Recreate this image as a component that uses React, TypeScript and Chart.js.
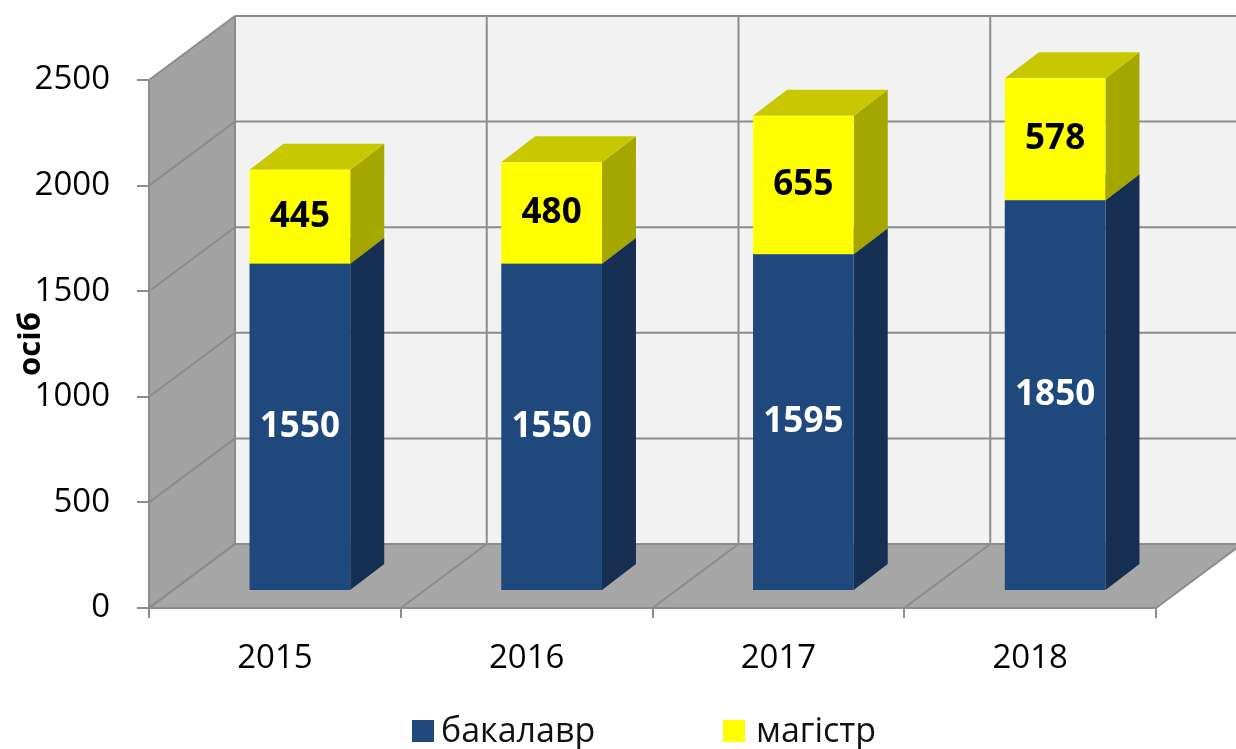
import React, { useEffect, useRef } from 'react';
import { Chart, registerables } from 'chart.js';

Chart.register(...registerables);

// ---- data ----
const categories = ['2015', '2016', '2017', '2018'];
const bachelorValues = [1550, 1550, 1595, 1850];
const masterValues = [445, 480, 655, 578];
const seriesNames = ['бакалавр', 'магістр'];
const yMin = 0;
const yMax = 2500;
const yStep = 500;
const axisTitle = 'осіб';

// ---- styling ----
const FONT = "'Open Sans', 'DejaVu Sans', sans-serif";
const SERIES_STYLE = [
  { front: '#1f497d', side: '#162f52', top: '#2b5a92', label: '#ffffff' },
  { front: '#ffff00', side: '#a6a600', top: '#c8c800', label: '#000000' },
];
const WALL = { back: '#f2f2f2', side: '#a2a2a2', floor: '#a6a6a6', line: '#8c8c8c' };
const DEPTH = { x: 86, y: -64 };
const BAR_SHIFT = { x: 25, y: -17 };
const BAR_DEPTH = { x: 34, y: -26 };

function fillPoly(ctx: CanvasRenderingContext2D, pts: number[][], color: string) {
  ctx.beginPath();
  ctx.moveTo(pts[0][0], pts[0][1]);
  for (let i = 1; i < pts.length; i++) ctx.lineTo(pts[i][0], pts[i][1]);
  ctx.closePath();
  ctx.fillStyle = color;
  ctx.fill();
}

function seg(ctx: CanvasRenderingContext2D, x1: number, y1: number, x2: number, y2: number) {
  ctx.beginPath();
  ctx.moveTo(x1, y1);
  ctx.lineTo(x2, y2);
  ctx.stroke();
}

const threeDPlugin = {
  id: 'threeD',
  beforeDraw(chart: any) {
    const ctx: CanvasRenderingContext2D = chart.ctx;
    const xs = chart.scales.x;
    const ys = chart.scales.y;
    const L = xs.left, R = xs.right, T = ys.top, B = ys.bottom;
    const DX = DEPTH.x, DY = DEPTH.y;
    ctx.save();
    fillPoly(ctx, [[L + DX, T + DY], [R + DX, T + DY], [R + DX, B + DY], [L + DX, B + DY]], WALL.back);
    fillPoly(ctx, [[L, T], [L + DX, T + DY], [L + DX, B + DY], [L, B]], WALL.side);
    fillPoly(ctx, [[L, B], [R, B], [R + DX, B + DY], [L + DX, B + DY]], WALL.floor);
    ctx.strokeStyle = WALL.line;
    ctx.lineWidth = 2;
    ys.ticks.forEach((t: any) => {
      const y = ys.getPixelForValue(t.value);
      seg(ctx, L, y, L + DX, y + DY);
      seg(ctx, L + DX, y + DY, R + DX, y + DY);
    });
    const n = chart.data.labels.length;
    const w = (R - L) / n;
    for (let i = 0; i <= n; i++) {
      const x = L + i * w;
      seg(ctx, x + DX, T + DY, x + DX, B + DY);
      seg(ctx, x, B, x + DX, B + DY);
    }
    ctx.restore();
  },
  beforeDatasetsDraw(chart: any) {
    const ctx: CanvasRenderingContext2D = chart.ctx;
    ctx.save();
    ctx.translate(BAR_SHIFT.x, BAR_SHIFT.y);
    chart.data.datasets.forEach((ds: any, di: number) => {
      const meta = chart.getDatasetMeta(di);
      const st = SERIES_STYLE[di];
      meta.data.forEach((bar: any) => {
        const { x, y, base, width } = bar.getProps(['x', 'y', 'base', 'width'], true);
        const l = x - width / 2;
        const r = x + width / 2;
        const top = Math.min(y, base);
        const bot = Math.max(y, base);
        fillPoly(ctx, [[r, top], [r + BAR_DEPTH.x, top + BAR_DEPTH.y], [r + BAR_DEPTH.x, bot + BAR_DEPTH.y], [r, bot]], st.side);
        fillPoly(ctx, [[l, top], [l + BAR_DEPTH.x, top + BAR_DEPTH.y], [r + BAR_DEPTH.x, top + BAR_DEPTH.y], [r, top]], st.top);
      });
    });
  },
  afterDatasetsDraw(chart: any) {
    const ctx: CanvasRenderingContext2D = chart.ctx;
    ctx.font = `bold 35px ${FONT}`;
    ctx.textAlign = 'center';
    ctx.textBaseline = 'middle';
    chart.data.datasets.forEach((ds: any, di: number) => {
      const meta = chart.getDatasetMeta(di);
      ctx.fillStyle = SERIES_STYLE[di].label;
      meta.data.forEach((bar: any, i: number) => {
        const { x, y, base } = bar.getProps(['x', 'y', 'base'], true);
        ctx.fillText(String(ds.data[i]), x, (y + base) / 2);
      });
    });
    ctx.restore();
  },
};

export default function App() {
  const ref = useRef<HTMLCanvasElement>(null);

  useEffect(() => {
    const chart = new Chart(ref.current as HTMLCanvasElement, {
      type: 'bar',
      data: {
        labels: categories,
        datasets: [
          {
            label: seriesNames[0],
            data: bachelorValues,
            backgroundColor: SERIES_STYLE[0].front,
            borderWidth: 0,
            barPercentage: 0.4,
            categoryPercentage: 1,
            clip: false as any,
          },
          {
            label: seriesNames[1],
            data: masterValues,
            backgroundColor: SERIES_STYLE[1].front,
            borderWidth: 0,
            barPercentage: 0.4,
            categoryPercentage: 1,
            clip: false as any,
          },
        ],
      },
      options: {
        responsive: false,
        animation: false,
        events: [],
        layout: { padding: { top: 80, right: 80, left: 0, bottom: 0 } },
        plugins: { legend: { display: false }, tooltip: { enabled: false } },
        scales: {
          x: {
            stacked: true,
            afterFit: (s: any) => { s.height = 141; },
            grid: { display: true, drawOnChartArea: false, drawTicks: true, tickLength: 10, color: WALL.line, lineWidth: 2, offset: true },
            border: { display: true, color: WALL.line, width: 2 },
            ticks: { color: '#000', font: { family: FONT, size: 33 }, padding: 21, maxRotation: 0, autoSkip: false },
          },
          y: {
            stacked: true,
            min: yMin,
            max: yMax,
            afterFit: (s: any) => { s.width = 149; },
            grid: { display: true, drawOnChartArea: false, drawTicks: true, tickLength: 12, color: WALL.line, lineWidth: 2 },
            border: { display: true, color: WALL.line, width: 2 },
            ticks: {
              stepSize: yStep,
              color: '#000',
              font: { family: FONT, size: 33 },
              padding: 27,
              callback: (v: any) => String(v),
            },
            title: { display: true, text: axisTitle, color: '#000', font: { family: FONT, size: 31, weight: 'bold' }, padding: { top: 13, bottom: 0 } },
          },
        },
      },
      plugins: [threeDPlugin],
    });
    return () => chart.destroy();
  }, []);

  const legendPos = [
    { box: 412, text: 441 },
    { box: 723, text: 756 },
  ];

  return (
    <div style={{ position: 'absolute', left: 0, top: 0, width: 1236, height: 749, background: '#fff', overflow: 'hidden' }}>
      <canvas ref={ref} width={1236} height={749} style={{ display: 'block' }} />
      {seriesNames.map((name, i) => (
        <React.Fragment key={name}>
          <div style={{ position: 'absolute', left: legendPos[i].box, top: 720, width: 22, height: 22, background: SERIES_STYLE[i].front }} />
          <div style={{ position: 'absolute', left: legendPos[i].text, top: 713, fontFamily: FONT, fontSize: 34, lineHeight: '33px', color: '#111', whiteSpace: 'nowrap' }}>{name}</div>
        </React.Fragment>
      ))}
    </div>
  );
}
